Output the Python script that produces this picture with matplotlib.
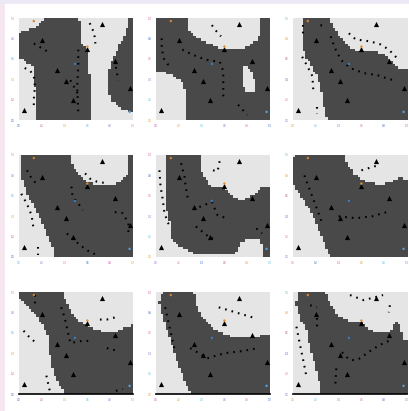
# 3x3 grid of binary decision regions with dotted level lines
import numpy as np
import matplotlib.pyplot as plt
from matplotlib.path import Path
from matplotlib.patches import Rectangle

DARK = "#494949"
LIGHT = "#e5e5e5"

# training points shared by every panel
tri_x = [0.04, 0.20, 0.33, 0.41, 0.47, 0.60, 0.73, 0.84, 0.97]
tri_y = [0.10, 0.78, 0.49, 0.38, 0.20, 0.70, 0.94, 0.58, 0.31]

ticks = [0.0, 0.2, 0.4, 0.6, 0.8, 1.0]
tick_labels = ["0.0", "0.2", "0.4", "0.6", "0.8", "1.0"]
tick_colors = ["#3a6fc4", "#c45a9e", "#e39a3c", "#5fb8d8", "#9a6fd0", "#e07a8a"]

# dark region outlines (axes units), one list per panel
dark_1 = [
    [(0.24, 1.0), (0.53, 1.0), (0.55, 0.75), (0.61, 0.69), (0.62, 0.43), (0.64, 0.23),
     (0.62, 0.0), (0.15, 0.0), (0.14, 0.36), (0.14, 0.52), (0.07, 0.56), (0.0, 0.62),
     (0.0, 0.85), (0.13, 0.90), (0.21, 0.98)],
    [(0.96, 1.0), (1.0, 1.0), (1.0, 0.08), (0.90, 0.10), (0.80, 0.20), (0.77, 0.43),
     (0.82, 0.59), (0.88, 0.74), (0.94, 0.85)],
]
dark_2 = [
    [(0.0, 1.0), (0.28, 1.0), (0.29, 0.89), (0.34, 0.82), (0.41, 0.77), (0.49, 0.74),
     (0.56, 0.70), (0.65, 0.70), (0.74, 0.69), (0.81, 0.72), (0.89, 0.79), (0.92, 0.89),
     (0.92, 1.0), (1.0, 1.0), (1.0, 0.0), (0.25, 0.0), (0.25, 0.30), (0.22, 0.39),
     (0.14, 0.44), (0.05, 0.48), (0.0, 0.46)],
]
dark_3 = [
    [(0.08, 1.0), (0.33, 1.0), (0.34, 0.92), (0.39, 0.85), (0.44, 0.79), (0.52, 0.70),
     (0.58, 0.67), (0.68, 0.67), (0.77, 0.66), (0.82, 0.62), (0.88, 0.56), (0.93, 0.49),
     (1.0, 0.49), (1.0, 0.0), (0.30, 0.0), (0.27, 0.13), (0.24, 0.33), (0.21, 0.43),
     (0.17, 0.52), (0.12, 0.61), (0.09, 0.69), (0.08, 0.89)],
]
dark_4 = [
    [(0.015, 1.0), (0.45, 1.0), (0.46, 0.92), (0.49, 0.84), (0.53, 0.79), (0.59, 0.74),
     (0.68, 0.70), (0.77, 0.69), (0.84, 0.70), (0.91, 0.75), (0.96, 0.82), (0.96, 1.0),
     (1.0, 1.0), (1.0, 0.0), (0.31, 0.0), (0.30, 0.08), (0.27, 0.16), (0.23, 0.26),
     (0.18, 0.39), (0.14, 0.49), (0.08, 0.59), (0.04, 0.72), (0.015, 0.85)],
]
dark_5 = [
    [(0.09, 1.0), (0.40, 1.0), (0.38, 0.89), (0.41, 0.79), (0.46, 0.72), (0.50, 0.66),
     (0.57, 0.69), (0.65, 0.62), (0.71, 0.56), (0.79, 0.56), (0.87, 0.62), (0.93, 0.67),
     (1.0, 0.69), (1.0, 0.0), (0.94, 0.0), (0.94, 0.10), (0.91, 0.16), (0.85, 0.18),
     (0.78, 0.17), (0.74, 0.13), (0.71, 0.04), (0.53, 0.02), (0.35, 0.03), (0.26, 0.07),
     (0.18, 0.13), (0.13, 0.20), (0.12, 0.36), (0.09, 0.49)],
]
dark_6 = [
    [(0.02, 1.0), (0.46, 1.0), (0.47, 0.90), (0.54, 0.80), (0.63, 0.74), (0.76, 0.70),
     (0.87, 0.74), (0.94, 0.77), (1.0, 0.75), (1.0, 0.0), (0.32, 0.0), (0.28, 0.12),
     (0.22, 0.28), (0.15, 0.46), (0.06, 0.61), (0.0, 0.71), (0.0, 0.95)],
]
dark_7 = [
    [(0.01, 1.0), (0.39, 1.0), (0.40, 0.92), (0.43, 0.85), (0.46, 0.78), (0.52, 0.72),
     (0.59, 0.67), (0.68, 0.62), (0.77, 0.60), (0.84, 0.60), (0.91, 0.63), (1.0, 0.68),
     (1.0, 0.0), (0.40, 0.0), (0.36, 0.08), (0.33, 0.15), (0.29, 0.25), (0.27, 0.38),
     (0.26, 0.55), (0.21, 0.67), (0.17, 0.73), (0.11, 0.80), (0.05, 0.87), (0.01, 0.92)],
]
dark_8 = [
    [(0.06, 1.0), (0.33, 1.0), (0.36, 0.85), (0.42, 0.72), (0.52, 0.62), (0.65, 0.56),
     (0.78, 0.55), (0.90, 0.56), (1.0, 0.58), (1.0, 0.0), (0.30, 0.0), (0.24, 0.15),
     (0.18, 0.35), (0.12, 0.55), (0.06, 0.75), (0.03, 0.90)],
]
dark_9 = [
    [(0.04, 1.0), (0.29, 1.0), (0.31, 0.92), (0.34, 0.85), (0.37, 0.80), (0.40, 0.75),
     (0.46, 0.72), (0.53, 0.70), (0.60, 0.69), (0.68, 0.62), (0.74, 0.59), (0.81, 0.59),
     (0.85, 0.62), (0.90, 0.69), (0.93, 0.66), (0.96, 0.54), (1.0, 0.52), (1.0, 0.0),
     (0.25, 0.0), (0.22, 0.16), (0.19, 0.30), (0.15, 0.46), (0.12, 0.62), (0.07, 0.72),
     (0.03, 0.85)],
]

# light pockets cut out of the dark area
holes_2 = [[(0.77, 0.52), (0.83, 0.51), (0.86, 0.39), (0.86, 0.28), (0.80, 0.26), (0.75, 0.36)]]

# dotted level lines
lines_1 = [
    [(0.05, 0.51), (0.10, 0.48), (0.13, 0.43), (0.14, 0.33), (0.13, 0.20), (0.13, 0.10)],
    [(0.52, 0.69), (0.52, 0.52), (0.51, 0.33), (0.52, 0.07)],
    [(0.62, 0.95), (0.66, 0.85), (0.67, 0.75)],
    [(0.45, 0.39), (0.49, 0.31), (0.53, 0.23)],
    [(0.13, 0.75), (0.22, 0.69), (0.27, 0.66)],
    [(0.85, 0.52), (0.87, 0.39)],
]
lines_2 = [
    [(0.05, 0.80), (0.05, 0.70), (0.07, 0.60), (0.10, 0.55), (0.14, 0.52)],
    [(0.23, 0.69), (0.32, 0.64), (0.44, 0.59), (0.56, 0.57), (0.59, 0.48), (0.59, 0.35),
     (0.59, 0.22)],
    [(0.49, 0.93), (0.53, 0.87), (0.57, 0.82)],
    [(0.72, 0.15), (0.80, 0.05)],
]
lines_3 = [
    [(0.33, 0.82), (0.37, 0.70), (0.42, 0.59), (0.50, 0.51), (0.62, 0.46), (0.74, 0.44),
     (0.82, 0.41), (0.91, 0.38)],
    [(0.49, 0.85), (0.55, 0.79), (0.68, 0.77), (0.77, 0.74), (0.84, 0.69), (0.91, 0.61)],
    [(0.08, 0.62), (0.12, 0.54), (0.17, 0.43), (0.18, 0.26)],
    [(0.09, 0.93), (0.09, 0.82)],
    [(0.21, 0.13), (0.21, 0.06)],
    [(0.24, 0.93), (0.28, 0.92)],
]
lines_4 = [
    [(0.07, 0.85), (0.10, 0.79), (0.15, 0.72)],
    [(0.58, 0.82), (0.62, 0.77), (0.68, 0.74), (0.78, 0.72)],
    [(0.02, 0.62), (0.07, 0.52), (0.11, 0.41), (0.13, 0.26)],
    [(0.46, 0.69), (0.47, 0.59), (0.53, 0.51), (0.56, 0.46)],
    [(0.84, 0.44), (0.91, 0.43), (0.96, 0.33), (0.96, 0.20)],
    [(0.42, 0.23), (0.49, 0.16), (0.59, 0.07), (0.68, 0.02)],
    [(0.17, 0.10), (0.17, 0.02)],
]
lines_5 = [
    [(0.03, 0.85), (0.04, 0.69), (0.06, 0.56), (0.07, 0.46), (0.10, 0.34), (0.13, 0.30)],
    [(0.22, 0.92), (0.25, 0.79), (0.26, 0.69), (0.28, 0.57)],
    [(0.50, 0.85), (0.54, 0.84), (0.56, 0.95)],
    [(0.38, 0.49), (0.49, 0.54), (0.54, 0.41), (0.62, 0.38)],
    [(0.35, 0.30), (0.46, 0.20), (0.50, 0.18)],
    [(0.88, 0.28), (0.93, 0.23)],
]
lines_6 = [
    [(0.10, 0.80), (0.15, 0.65), (0.20, 0.50), (0.25, 0.35)],
    [(0.40, 0.40), (0.55, 0.38), (0.70, 0.40), (0.85, 0.45)],
    [(0.60, 0.85), (0.75, 0.90)],
]
lines_7 = [
    [(0.14, 0.97), (0.14, 0.87)],
    [(0.04, 0.62), (0.08, 0.57), (0.15, 0.50)],
    [(0.37, 0.85), (0.40, 0.75), (0.42, 0.65), (0.45, 0.50), (0.55, 0.52), (0.61, 0.52)],
    [(0.77, 0.45), (0.84, 0.43), (0.88, 0.42)],
    [(0.24, 0.18), (0.27, 0.03)],
    [(0.71, 0.73), (0.77, 0.73), (0.84, 0.75)],
    [(0.85, 0.03), (0.91, 0.05)],
]
lines_8 = [
    [(0.08, 0.85), (0.12, 0.65), (0.16, 0.45)],
    [(0.30, 0.45), (0.45, 0.35), (0.60, 0.40), (0.75, 0.42), (0.90, 0.45)],
    [(0.55, 0.85), (0.70, 0.80), (0.85, 0.75)],
]
lines_9 = [
    [(0.21, 0.75), (0.21, 0.66)],
    [(0.15, 0.87), (0.21, 0.85)],
    [(0.03, 0.66), (0.06, 0.49), (0.09, 0.33), (0.12, 0.16)],
    [(0.43, 0.41), (0.49, 0.34), (0.54, 0.33), (0.59, 0.35), (0.66, 0.41), (0.76, 0.48),
     (0.84, 0.52)],
    [(0.50, 0.97), (0.62, 0.92), (0.79, 0.97)],
    [(0.85, 0.87), (0.84, 0.80)],
    [(0.38, 0.25), (0.37, 0.07)],
]

# a few coloured sample points
dot_x = [0.13, 0.49, 0.60, 0.97]
dot_y = [0.97, 0.55, 0.72, 0.08]
dot_c = ["#d9822b", "#3b7bbf", "#e0902a", "#5aa0d8"]

panels = [
    (dark_1, [], lines_1), (dark_2, holes_2, lines_2), (dark_3, [], lines_3),
    (dark_4, [], lines_4), (dark_5, [], lines_5), (dark_6, [], lines_6),
    (dark_7, [], lines_7), (dark_8, [], lines_8), (dark_9, [], lines_9),
]

W, H = 409, 411
fig = plt.figure(figsize=(W / 100, H / 100), dpi=100, facecolor="#ece8f5")
fig.patches.append(Rectangle((0, 0), 5 / W, 1 - 4 / H, transform=fig.transFigure,
                             color="#f5e6ef", zorder=-2))
fig.patches.append(Rectangle((5 / W, 0), 1, 1 - 4 / H, transform=fig.transFigure,
                             color="white", zorder=-2))

col_left = [19, 156, 293]
row_top = [18, 155, 292]
aw, ah = 114, 102

nx, ny = 46, 40
gx, gy = np.meshgrid((np.arange(nx) + 0.5) / nx, (np.arange(ny) + 0.5) / ny)
pts = np.column_stack([gx.ravel(), gy.ravel()])
cmap = plt.matplotlib.colors.ListedColormap([LIGHT, DARK])

for i, (dark, holes, lines) in enumerate(panels):
    r, c = divmod(i, 3)
    ax = fig.add_axes([col_left[c] / W, 1 - (row_top[r] + ah) / H, aw / W, ah / H])
    ax.patch.set_alpha(0)

    mask = np.zeros(len(pts), dtype=bool)
    for poly in dark:
        mask |= Path(poly).contains_points(pts)
    for poly in holes:
        mask &= ~Path(poly).contains_points(pts)
    field = mask.reshape(ny, nx).astype(float)
    ax.imshow(field, origin="lower", extent=[0, 1, 0, 1], aspect="auto",
              cmap=cmap, vmin=0, vmax=1, interpolation="nearest")

    for ln in lines:
        xs, ys = zip(*ln)
        ax.plot(xs, ys, color="black", lw=1.5, linestyle=(0, (0.8, 2.4)))

    ax.scatter(tri_x, tri_y, marker="^", s=14, color="black", linewidths=0, zorder=5)
    ax.scatter(dot_x, dot_y, s=3, c=dot_c, linewidths=0, zorder=5)

    ax.set_xlim(0, 1)
    ax.set_ylim(0, 1)
    ax.set_xticks(ticks)
    ax.set_yticks(ticks)
    ax.set_xticklabels(tick_labels, fontsize=1.8)
    ax.set_yticklabels(tick_labels, fontsize=1.8)
    for k, lab in enumerate(ax.get_xticklabels()):
        lab.set_color(tick_colors[(k + i) % len(tick_colors)])
    for k, lab in enumerate(ax.get_yticklabels()):
        lab.set_color(tick_colors[(k + 2 * i) % len(tick_colors)])
    ax.tick_params(length=0, pad=3)
    for side in ["top", "right", "left", "bottom"]:
        ax.spines[side].set_visible(False)
    if r == 2:
        ax.spines["bottom"].set_visible(True)
        ax.spines["bottom"].set_linewidth(1.2)

fig.savefig("out.png", dpi=100, facecolor=fig.get_facecolor())
